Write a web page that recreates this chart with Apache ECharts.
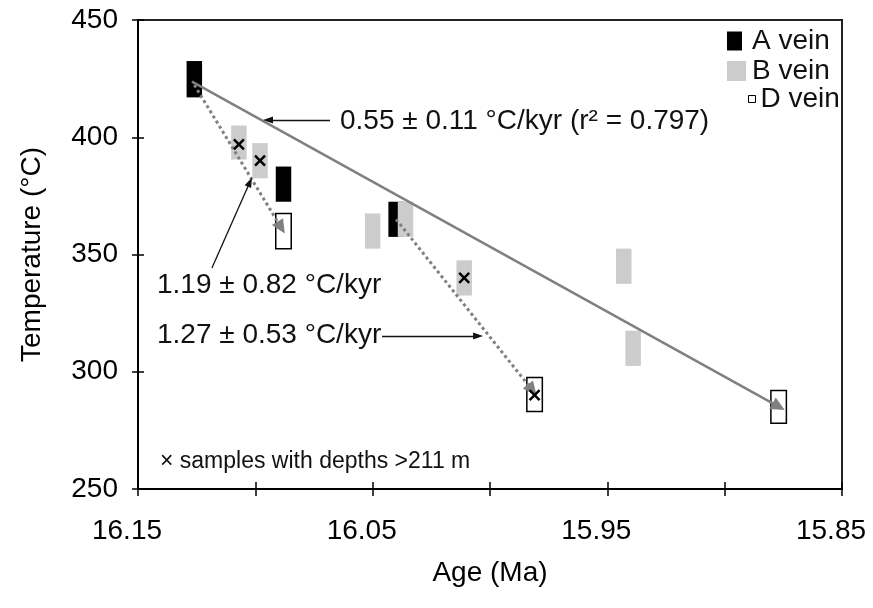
<!DOCTYPE html>
<html><head><meta charset="utf-8">
<script src="https://cdn.jsdelivr.net/npm/echarts@6/dist/echarts.min.js"></script>
<style>html,body{margin:0;padding:0;background:#fff}#c{width:873px;height:608px}</style>
</head><body><div id="c"></div>
<script>
// ---- data ----
const aAge = [16.126, 16.088, 16.040];
const aMin = [417, 372.5, 357.5];
const aMax = [432.5, 387.5, 372.5];
const bAge = [16.107, 16.098, 16.050, 16.036, 16.011, 15.943, 15.939];
const bMin = [390.5, 382.5, 352.5, 357.5, 332.5, 337.5, 302.5];
const bMax = [405, 397.5, 367.5, 372.5, 347.5, 352.5, 317.5];
const dAge = [16.088, 15.981, 15.877];
const dMin = [352.5, 283, 278];
const dMax = [367.5, 297.5, 292];
const deepAge = [16.107, 16.098, 16.011, 15.981];
const deepTemp = [397, 390, 340, 290];
const fitAll = [[16.127, 423.7], [15.877, 285.1]];
const fitEarly = [[16.126, 422.3], [16.089, 361.5]];
const fitLate = [[16.040, 365], [15.982, 292.2]];
const arrowAll = [[16.0682, 407.4], [16.0946, 407.4]];
const arrowEarly = [[16.1185, 344.2], [16.1023, 380.9]];
const arrowLate = [[16.046, 315.2], [16.0051, 315.2]];
const xTickLabels = ['16.15', '16.05', '15.95', '15.85'];
const labelAll = '0.55 ± 0.11 °C/kyr (r² = 0.797)';
const labelEarly = '1.19 ± 0.82 °C/kyr';
const labelLate = '1.27 ± 0.53 °C/kyr';
const labelDeep = '× samples with depths >211 m';

const HALF = 0.0033;
const FONT = '"Liberation Sans", Arial, sans-serif';
const TXT = '#111';

function zip3(a, b, c) { return a.map((v, i) => [v, b[i], c[i]]); }
function makeRender(style) {
  return function (params, api) {
    const x = api.value(0), lo = api.value(1), hi = api.value(2);
    const p1 = api.coord([x + HALF, hi]);
    const p2 = api.coord([x - HALF, lo]);
    return {
      type: 'rect',
      shape: { x: Math.min(p1[0], p2[0]), y: Math.min(p1[1], p2[1]),
               width: Math.abs(p2[0] - p1[0]), height: Math.abs(p2[1] - p1[1]) },
      style: style
    };
  };
}
function seg(pair, opts) {
  return [Object.assign({ coord: pair[0], symbol: 'none' }, opts.start || {}),
          Object.assign({ coord: pair[1], symbol: opts.sym, symbolSize: opts.size })];
}

const chart = echarts.init(document.getElementById('c'));
const axisFont = { fontFamily: FONT, fontSize: 28, color: '#000' };
chart.setOption({
  animation: false,
  backgroundColor: '#fff',
  grid: { left: 138, right: 31, top: 20, bottom: 119, show: true, borderColor: '#222', borderWidth: 2 },
  xAxis: [{
    type: 'value', inverse: true, min: 15.85, max: 16.15, interval: 0.05,
    name: 'Age (Ma)', nameLocation: 'middle', nameGap: 70,
    nameTextStyle: axisFont,
    axisLine: { show: true, lineStyle: { color: '#000', width: 2 } },
    axisTick: { show: true, inside: false, length: 7, lineStyle: { color: '#000', width: 1.5 } },
    splitLine: { show: false },
    axisLabel: {
      margin: 28, fontFamily: FONT, fontSize: 28, color: '#000', padding: [0, 22, 0, 0],
      formatter: function (v) {
        const s = v.toFixed(2);
        return xTickLabels.indexOf(s) >= 0 ? s : '';
      }
    }
  }, {
    type: 'value', inverse: true, min: 15.85, max: 16.15, interval: 0.05, position: 'bottom',
    axisLine: { show: false }, axisLabel: { show: false }, splitLine: { show: false },
    axisTick: { show: true, inside: true, length: 7, lineStyle: { color: '#000', width: 1.5 } }
  }],
  yAxis: [{
    type: 'value', min: 250, max: 450, interval: 50,
    name: 'Temperature (°C)', nameLocation: 'middle', nameGap: 92, nameRotate: 90,
    nameTextStyle: axisFont,
    axisLine: { show: true, lineStyle: { color: '#000', width: 2 } },
    axisTick: { show: true, inside: false, length: 6, lineStyle: { color: '#000', width: 1.5 } },
    splitLine: { show: false },
    axisLabel: { margin: 20, fontFamily: FONT, fontSize: 28, color: '#000' }
  }, {
    type: 'value', min: 250, max: 450, interval: 50, position: 'left',
    axisLine: { show: false }, axisLabel: { show: false }, splitLine: { show: false },
    axisTick: { show: true, inside: true, length: 6, lineStyle: { color: '#000', width: 1.5 } }
  }],
  legend: [
    { data: [{ name: 'A vein', icon: 'rect' }], left: 722, top: 22, itemWidth: 15, itemHeight: 19,
      textStyle: { fontFamily: FONT, fontSize: 28, color: TXT, padding: [0, 0, 0, 5] } },
    { data: [{ name: 'B vein', icon: 'rect' }], left: 722, top: 52, itemWidth: 19, itemHeight: 20,
      textStyle: { fontFamily: FONT, fontSize: 28, color: TXT, padding: [0, 0, 0, 1] } },
    { data: [{ name: 'D vein', icon: 'rect', itemStyle: { color: '#fff', borderColor: '#000', borderWidth: 1 } }],
      left: 743, top: 80, itemWidth: 7, itemHeight: 7,
      textStyle: { fontFamily: FONT, fontSize: 28, color: TXT } }
  ],
  series: [
    { name: 'A vein', type: 'custom', renderItem: makeRender({ fill: '#000' }),
      itemStyle: { color: '#000' }, data: zip3(aAge, aMin, aMax), encode: { x: 0, y: [1, 2] }, z: 2 },
    { name: 'B vein', type: 'custom', renderItem: makeRender({ fill: '#cccccc' }),
      itemStyle: { color: '#cccccc' }, data: zip3(bAge, bMin, bMax), encode: { x: 0, y: [1, 2] }, z: 3 },
    { name: 'D vein', type: 'custom', renderItem: makeRender({ fill: '#fff', stroke: '#000', lineWidth: 1.5 }),
      itemStyle: { color: '#fff', borderColor: '#000', borderWidth: 1 }, data: zip3(dAge, dMin, dMax), encode: { x: 0, y: [1, 2] }, z: 3 },
    { name: 'fits', type: 'line', data: [], z: 5,
      markLine: {
        silent: true, animation: false, label: { show: false },
        data: [
          seg(fitAll, { sym: 'triangle', size: [13, 14], start: { lineStyle: { color: '#808080', width: 2.5, type: 'solid' } } }),
          seg(fitEarly, { sym: 'triangle', size: [13, 14], start: { lineStyle: { color: '#808080', width: 3, type: [3, 3] } } }),
          seg(fitLate, { sym: 'triangle', size: [13, 14], start: { lineStyle: { color: '#808080', width: 3, type: [3, 3] } } })
        ]
      } },
    { name: 'annot', type: 'line', data: [], z: 5,
      markLine: {
        silent: true, animation: false, label: { show: false },
        lineStyle: { color: '#111', width: 1.3, type: 'solid' },
        data: [
          seg(arrowAll, { sym: 'triangle', size: [7, 10] }),
          seg(arrowEarly, { sym: 'triangle', size: [7, 10] }),
          seg(arrowLate, { sym: 'triangle', size: [7, 10] })
        ]
      } },
    { name: 'deep', type: 'scatter', z: 6,
      symbol: 'path://M0,0L10,10M10,0L0,10', symbolSize: 10,
      itemStyle: { color: 'rgba(0,0,0,0)', borderColor: '#000', borderWidth: 2.5, opacity: 1 },
      data: deepAge.map((v, i) => [v, deepTemp[i]]) }
  ],
  graphic: [
    { type: 'text', left: 340, top: 107, z: 10, style: { text: labelAll, font: '28px ' + FONT, fill: TXT } },
    { type: 'text', left: 157, top: 271, z: 10, style: { text: labelEarly, font: '28px ' + FONT, fill: TXT } },
    { type: 'text', left: 157, top: 321, z: 10, style: { text: labelLate, font: '28px ' + FONT, fill: TXT } },
    { type: 'text', left: 160, top: 450, z: 10, style: { text: labelDeep, font: '23px ' + FONT, fill: TXT } }
  ]
});
</script>
</body></html>
